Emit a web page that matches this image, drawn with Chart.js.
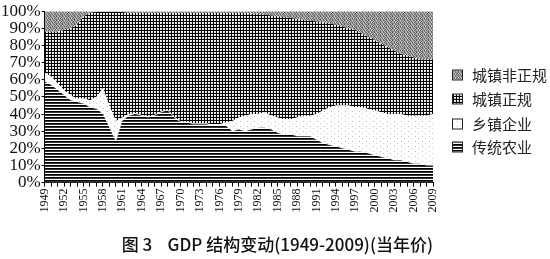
<!DOCTYPE html>
<html>
<head>
<meta charset="utf-8">
<script src="https://cdn.jsdelivr.net/npm/chart.js@4.4.1/dist/chart.umd.min.js"></script>
<style>
  html, body { margin: 0; padding: 0; background: #fff; }
  #wrap { width: 550px; height: 259px; }
</style>
</head>
<body>
<div id="wrap"><canvas id="gdpChart" width="550" height="259"></canvas></div>
<script>
// years 1949-2009
const years = [];
for (let y = 1949; y <= 2009; y++) years.push(String(y));

// shares in percent
const agriculture = [59, 57, 54, 51, 48, 47, 46, 44, 43, 40, 32, 24, 36, 39, 40, 39, 38, 39, 41, 42,
  38, 35, 35, 34, 34, 34, 33, 33, 33, 30, 31, 30, 31, 32, 32, 31, 29, 28, 28, 27,
  27, 27, 25, 23, 22, 21, 20, 19, 18, 18, 17, 16, 15, 14, 13, 13, 12, 11, 11, 10, 10];
const township = [5, 5, 4, 3, 3, 2, 3, 4, 7, 15, 13, 12, 2, 1, 0.5, 0.5, 0.5, 0.5, 0.5, 0.5,
  0.5, 0.5, 0.5, 0.5, 0.5, 0.5, 1, 1, 2, 6, 7, 9, 9, 8, 9, 8, 9, 9, 9, 11,
  12, 12, 15, 19, 22, 24, 25, 26, 26, 26, 26, 26, 26, 26, 27, 27, 27, 28, 28, 29, 30];
const urbanFormal = [24, 26, 30, 35, 39, 43, 48, 51, 49.5, 44.5, 54.5, 63.5, 61.5, 59, 58.5, 59.5, 60.5, 59.5, 57.5, 56.5,
  60.5, 63.5, 63.5, 64.5, 64.5, 64.5, 65, 65, 64, 63, 61, 60, 58.5, 58.5, 57, 58.5, 59, 59.5, 59, 57.5,
  56, 55.5, 54, 51.5, 49, 47, 46, 45, 45, 43, 42, 41, 40, 39, 37, 35, 35, 34, 33, 33, 32];
const urbanInformal = [12, 12, 12, 11, 10, 8, 3, 1, 0.5, 0.5, 0.5, 0.5, 0.5, 1, 1, 1, 1, 1, 1, 1,
  1, 1, 1, 1, 1, 1, 1, 1, 1, 1, 1, 1, 1.5, 1.5, 2, 2.5, 3, 3.5, 4, 4.5,
  5, 5.5, 6, 6.5, 7, 8, 9, 10, 11, 13, 15, 17, 19, 21, 23, 25, 26, 27, 28, 28, 28];

const seriesNames = ['传统农业', '乡镇企业', '城镇正规', '城镇非正规'];
const yTicks = [0, 10, 20, 30, 40, 50, 60, 70, 80, 90, 100];

// small pixel tiles used as fill patterns
function makePattern(rows) {
  const c = document.createElement('canvas');
  c.width = rows[0].length;
  c.height = rows.length;
  const g = c.getContext('2d');
  rows.forEach((row, y) => {
    row.forEach((col, x) => {
      g.fillStyle = col;
      g.fillRect(x, y, 1, 1);
    });
  });
  return g.createPattern(c, 'repeat');
}

const K = '#000', D = '#333', W = '#fff';
const stripePat = makePattern([
  [K, K, K],
  [D, D, D],
  [W, W, W]
]);
const gridPat = makePattern([
  [K, K, K],
  [K, W, '#eee'],
  [K, '#eee', '#ccc']
]);
const dotPat = makePattern([
  [W, W, W, W, W, W, W],
  [W, W, '#bbb', W, W, W, W],
  [W, W, W, W, W, W, W],
  [W, W, W, W, W, '#ccc', W],
  [W, W, W, W, W, W, W]
]);
const grayPat = makePattern([
  ['#777', '#bbb', '#555', '#999', '#ccc', '#666'],
  ['#aaa', '#666', '#ccc', '#777', '#888', '#bbb'],
  ['#555', '#999', '#888', '#bbb', '#666', '#ccc'],
  ['#bbb', '#888', '#666', '#aaa', '#999', '#777']
]);

const fills = [stripePat, dotPat, gridPat, grayPat];
const values = [agriculture, township, urbanFormal, urbanInformal];

// legend drawn at the right, top item = last series
const legendPlugin = {
  id: 'sideLegend',
  afterDraw(chart) {
    const ctx = chart.ctx;
    ctx.save();
    ctx.font = '15px "Noto Sans CJK SC"';
    ctx.textBaseline = 'middle';
    const rows = [75, 99, 124, 147];
    for (let i = 0; i < 4; i++) {
      const ds = chart.data.datasets[3 - i];
      const y = rows[i];
      ctx.fillStyle = ds.backgroundColor;
      ctx.fillRect(453, y - 4.5, 9, 9);
      ctx.strokeStyle = '#222';
      ctx.lineWidth = 1;
      ctx.strokeRect(452.5, y - 5, 10, 10);
      ctx.fillStyle = '#222';
      ctx.fillText(ds.label, 472, y);
    }
    ctx.restore();
  }
};

new Chart(document.getElementById('gdpChart').getContext('2d'), {
  type: 'line',
  data: {
    labels: years,
    datasets: values.map((v, i) => ({
      label: seriesNames[i],
      data: v,
      backgroundColor: fills[i],
      borderColor: 'rgba(0,0,0,0)',
      borderWidth: 0,
      pointRadius: 0,
      tension: 0,
      fill: i === 0 ? 'origin' : '-1'
    }))
  },
  options: {
    responsive: false,
    animation: false,
    layout: { padding: { left: 0, right: 117, top: 6, bottom: 0 } },
    plugins: {
      legend: { display: false },
      tooltip: { enabled: false },
      title: {
        display: true,
        position: 'bottom',
        align: 'end',
        text: '图 3    GDP 结构变动(1949-2009)(当年价)',
        color: '#111',
        font: { family: '"Noto Sans CJK SC"', size: 17, weight: '500' },
        padding: { top: 20, bottom: 4 }
      }
    },
    scales: {
      x: {
        grid: { display: true, drawOnChartArea: false, drawTicks: true, tickLength: 4, color: '#000' },
        border: { display: true, color: '#000' },
        ticks: {
          autoSkip: false,
          minRotation: 90,
          maxRotation: 90,
          padding: 2,
          color: '#111',
          font: { family: '"Liberation Serif"', size: 12 },
          callback: (v, i) => (i % 3 === 0 ? years[i] : '')
        }
      },
      y: {
        stacked: true,
        min: 0,
        max: 100,
        afterBuildTicks: (axis) => { axis.ticks = yTicks.map(v => ({ value: v })); },
        grid: { display: true, drawOnChartArea: false, drawTicks: true, tickLength: 3, color: '#000' },
        border: { display: true, color: '#000' },
        ticks: {
          autoSkip: false,
          padding: 1,
          color: '#111',
          font: { family: '"Liberation Serif"', size: 17 },
          callback: (v) => v + '%'
        }
      }
    }
  },
  plugins: [legendPlugin]
});
</script>
</body>
</html>
